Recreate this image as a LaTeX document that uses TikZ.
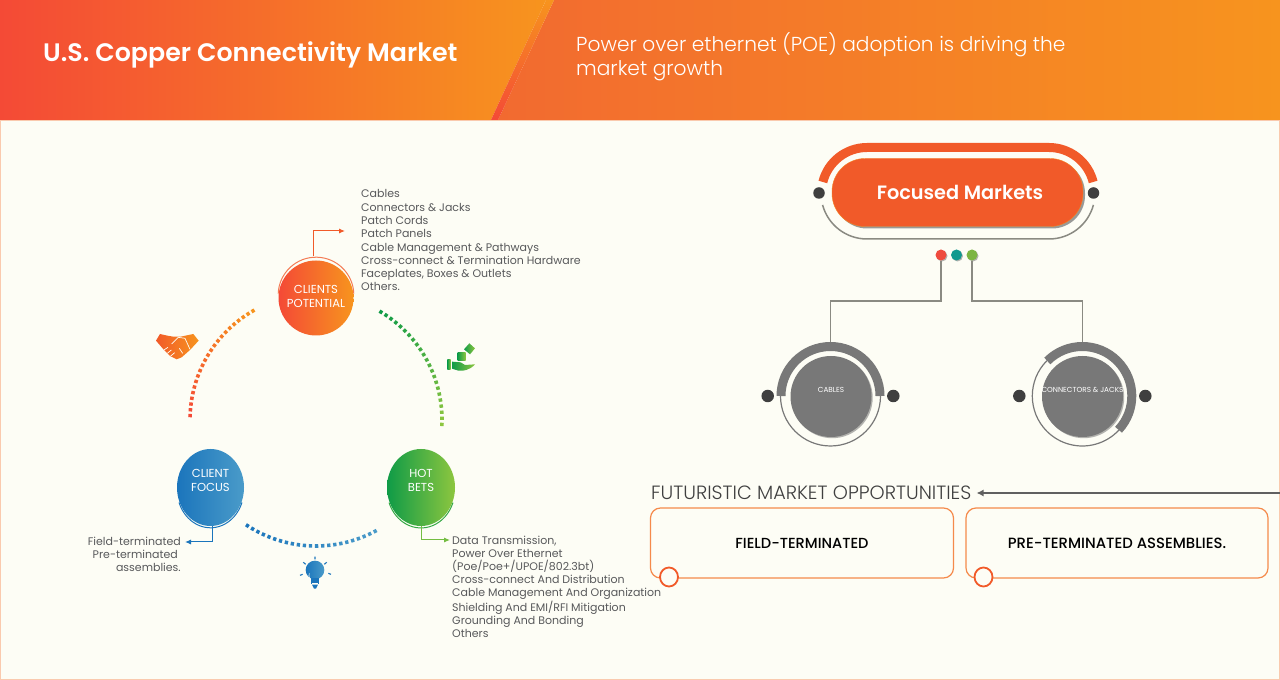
\documentclass[tikz,border=0pt]{standalone}
\usepackage{fontspec}
\setmainfont{Poppins}
\newfontfamily\popsemi{Poppins SemiBold}
\newfontfamily\popmed{Poppins Medium}
\newfontfamily\poplight{Poppins Light}
\usetikzlibrary{arrows.meta,shapes.geometric,shadows}
\definecolor{pagebg}{HTML}{FDFDF5}
\definecolor{hdrred}{HTML}{F44A36}
\definecolor{hdrorange}{HTML}{F7941E}
\definecolor{hdrmid}{HTML}{F26A30}
\definecolor{focusorange}{HTML}{F15A29}
\definecolor{boxorange}{HTML}{F58A4B}
\definecolor{listgray}{HTML}{58595B}
\definecolor{dotdark}{HTML}{3F3F3F}
\definecolor{bandgray}{HTML}{787878}
\definecolor{linegray}{HTML}{8A8A82}
\definecolor{focusblue}{HTML}{1B75BC}
\definecolor{focusblueb}{HTML}{4A9BC9}
\definecolor{betsgreen}{HTML}{0F9B47}
\definecolor{betsgreenb}{HTML}{8DC63F}
\definecolor{dotredc}{HTML}{EF4B3E}
\definecolor{dottealc}{HTML}{11998E}
\definecolor{dotgreenc}{HTML}{7CB542}
\tikzset{
	bubble/.style={ellipse, inner sep=0pt, text=white, align=center, font=\fontsize{11.6}{14}\selectfont},
	listtext/.style={inner sep=0pt, anchor=north west, align=left, text=listgray, font=\fontsize{11}{13.3}\selectfont},
	ringdot/.style={line width=3.6pt, shift={(316,260)}},
	smalltip/.style={-{Latex[length=6pt,width=5pt]}},
	sidedot/.style={circle, fill=dotdark, inner sep=0pt, minimum size=12.5pt},
	colordot/.style={circle, inner sep=0pt, minimum size=11pt, drop shadow={shadow xshift=1pt,shadow yshift=-1pt,fill=gray,opacity=.6}},
	disc/.style={circle, fill=bandgray, inner sep=0pt, minimum size=81pt, text=white, font=\fontsize{7.3}{9}\selectfont, drop shadow={shadow xshift=1.2pt,shadow yshift=-1.2pt,fill=gray,opacity=.6}},
	band/.style={bandgray, line width=9pt},
	thinring/.style={bandgray, line width=1.2pt},
	elbow/.style={linegray, line width=1.5pt},
	oppbox/.style={draw=boxorange, line width=1.2pt, rounded corners=10pt, minimum width=303pt, minimum height=70pt, inner sep=0pt, text=black, font=\popmed\fontsize{14.6}{16}\selectfont},
	oppdot/.style={ellipse, draw=focusorange, fill=pagebg, line width=1.8pt, inner sep=0pt, minimum width=18pt, minimum height=19pt}
}
\begin{document}
\begin{tikzpicture}[x=1pt, y=1pt]
	\useasboundingbox (0,0) rectangle (1280,680);
	\fill[pagebg] (0,0) rectangle (1280,680);
	\draw[boxorange!45, line width=.7pt] (0.3,0.3) rectangle (1279.7,560);

	%% Header
	\shade[left color=hdrred, right color=hdrorange] (0,560) -- (0,680) -- (546,680) -- (491,560) -- cycle;
	\shade[left color=hdrmid, right color=hdrorange] (498,560) -- (554,680) -- (1280,680) -- (1280,560) -- cycle;
	\shade[bottom color=hdrred, top color=hdrorange] (491,560) -- (546,680) -- (554,680) -- (498,560) -- cycle;
	\node[text=white, anchor=west, inner sep=0pt, font=\popsemi\fontsize{25.3}{28}\selectfont] (title) at (43,625.5) {U.S. Copper Connectivity Market};
	\node[text=white, anchor=north west, inner sep=0pt, align=left, font=\poplight\fontsize{20.2}{24}\selectfont] (subtitle) at (576,648) {Power over ethernet (POE) adoption is driving the\\market growth};

	%% Ring
	\foreach \i in {0,...,22} {
		\pgfmathsetmacro\ang{178-\i*58/22}
		\pgfmathsetmacro\mix{100*\i/22}
		\draw[ringdot, hdrorange!\mix!hdrred] (\ang+0.75:126) arc[start angle=\ang+0.75, end angle=\ang-0.75, radius=126];
		\pgfmathsetmacro\ang{-2+\i*61/22}
		\draw[ringdot, betsgreen!\mix!betsgreenb] (\ang+0.75:126) arc[start angle=\ang+0.75, end angle=\ang-0.75, radius=126];
		\pgfmathsetmacro\ang{237+\i*61/22}
		\draw[ringdot, focusblueb!\mix!focusblue] (\ang+0.75:126) arc[start angle=\ang+0.75, end angle=\ang-0.75, radius=126];
	}

	%% Bubbles
	\node[bubble, minimum width=75pt, minimum height=75pt, left color=hdrred, right color=hdrorange] (clients) at (316,382) {\raisebox{3pt}{\clap{CLIENTS}}\\\raisebox{3pt}{\clap{POTENTIAL}}};
	\draw[focusorange!80!white, line width=1pt] (316,385) ++(178:37.8) arc[start angle=178, end angle=2, radius=37.8];
	\node[bubble, minimum width=67pt, minimum height=77pt, left color=focusblue, right color=focusblueb] (focus) at (210.5,192.5) {CLIENT\\FOCUS\\ \mbox{}};
	\draw[focusblue, line width=1pt] (210.5,189) ++(200:33.5) arc[start angle=200, end angle=340, x radius=33.5, y radius=38.5];
	\node[bubble, minimum width=68pt, minimum height=77pt, left color=betsgreen, right color=betsgreenb] (bets) at (421,192.5) {HOT\\BETS\\ \mbox{}};
	\draw[betsgreen!70!betsgreenb, line width=1pt] (421,189) ++(200:34) arc[start angle=200, end angle=340, x radius=34, y radius=38.5];

	%% Lists
	\node[listtext] (clientlist) at (361,490.5) {Cables\\Connectors \& Jacks\\Patch Cords\\Patch Panels\\Cable Management \& Pathways\\Cross-connect \& Termination Hardware\\Faceplates, Boxes \& Outlets\\Others.};
	\node[listtext, font=\fontsize{11}{13.15}\selectfont] (betslist) at (452,144.5) {Data Transmission,\\Power Over Ethernet\\(Poe/Poe+/UPOE/802.3bt)\\Cross-connect And Distribution\\Cable Management And Organization\\Shielding And EMI/RFI Mitigation\\Grounding And Bonding\\Others};
	\node[listtext, anchor=north east] (focusa) at (181,143) {Field-terminated};
	\node[listtext, anchor=north east] (focusb) at (178,130) {Pre-terminated};
	\node[listtext, anchor=north east] (focusc) at (181,117) {assemblies.};

	%% Arrows of the bubbles
	\coordinate (clientsend) at (345,449);
	\coordinate (focusend) at (185,138);
	\coordinate (betsend) at (450,140);
	\draw[smalltip, focusorange, line width=1pt] ([xshift=-2.5pt,yshift=4pt]clients.north) |- (clientsend);
	\draw[smalltip, focusblue, line width=1pt] ([xshift=2pt]focus.south) |- (focusend);
	\draw[smalltip, betsgreenb!80!betsgreen, line width=1pt] (bets.south) |- (betsend);

	%% Handshake
	\begin{scope}[shift={(140,360)}, x=.3333pt, y=-.3333pt]
		\shade[left color=focusorange, right color=hdrorange] (48,62) -- (60,42) -- (82,47) -- (100,50) -- (122,50) -- (160,42) -- (176,62) -- (150,90) -- (125,112) -- (110,118) -- (90,108) -- (72,90) -- cycle;
		\draw[pagebg, line width=.7pt] (95,72) -- (115,52) -- (135,55) -- (150,88);
		\draw[pagebg, line width=.7pt] (72,90) -- (84,82) (82,100) -- (94,90) (92,108) -- (104,98) (118,85) -- (128,100);
	\end{scope}

	%% Hand with cubes
	\begin{scope}[shift={(430,350)}, x=.3333pt, y=-.3333pt]
		\shade[left color=betsgreen, right color=betsgreenb] (52,90) rectangle (62,120);
		\shade[left color=betsgreen, right color=betsgreenb] (66,95) -- (92,97) -- (105,105) -- (135,103) .. controls (120,120) and (100,124) .. (85,122) -- (66,116) -- cycle;
		\shade[left color=betsgreen, right color=betsgreenb] (83,68) rectangle (107,92);
		\shade[left color=betsgreen, right color=betsgreenb] (118,40) -- (135,55) -- (120,73) -- (102,58) -- cycle;
	\end{scope}

	%% Bulb
	\begin{scope}[shift={(290,130)}, x=.3333pt, y=-.3333pt]
		\shade[left color=focusblue, right color=focusblueb] (75,60) circle[radius=28];
		\draw[pagebg, line width=.6pt] (58,70) arc[start angle=200, end angle=110, radius=20];
		\fill[focusblue] (63,85) rectangle (87,102);
		\fill[pagebg] (66,100) rectangle (84,103);
		\fill[focusblue] (66,104) -- (84,104) -- (78,116) -- (72,116) -- cycle;
		\draw[focusblue, line width=1.1pt] (75,20) -- (75,28) (40,37) -- (47,43) (110,37) -- (103,43) (30,76) -- (38,73) (115,70) -- (123,73);
	\end{scope}

	%% Focused Markets
	\draw[focusorange, line width=9pt] (867,487) ++(166:45.5) arc[start angle=166, end angle=90, radius=45.5] -- (1049,532.5) arc[start angle=90, end angle=14, radius=45.5];
	\draw[linegray, line width=1.5pt] (867,487) ++(195:46) arc[start angle=195, end angle=270, radius=46] -- (1049,441) arc[start angle=270, end angle=345, radius=46];
	\node[fill=focusorange, draw=hdrorange!70!focusorange, rounded corners=33pt, minimum width=251pt, minimum height=68pt, inner sep=0pt, text=white, font=\popsemi\fontsize{19.3}{22}\selectfont, drop shadow={shadow xshift=2pt,shadow yshift=-2pt,fill=gray,opacity=.8}] (focused) at (957.5,487.5) {\hspace{5pt}Focused Markets};
	\node[sidedot, minimum size=11.5pt] (focusedl) at (819,487) {};
	\node[sidedot, minimum size=11.5pt] (focusedr) at (1093.5,487) {};

	%% Market dots
	\node[colordot, fill=dotredc] (dotred) at (941,425) {};
	\node[colordot, fill=dottealc] (dotteal) at (956.5,425) {};
	\node[colordot, fill=dotgreenc] (dotgreen) at (972,425) {};

	%% Cables
	\node[disc] (cables) at (831,283.5) {\raisebox{14pt}{CABLES}};
	\draw[band] (830.5,284) ++(180:49.5) arc[start angle=180, end angle=0, radius=49.5];
	\draw[thinring] (780.5,284) arc[start angle=180, end angle=360, radius=50];
	\node[sidedot] (cablesl) at (767.7,284) {};
	\node[sidedot] (cablesr) at (893.3,284) {};

	%% Connectors and jacks
	\node[disc] (jacks) at (1082.5,283.5) {\raisebox{14pt}{\clap{CONNECTORS \& JACKS}}};
	\draw[band] (1082.3,284) ++(135:49.5) arc[start angle=135, end angle=-43, radius=49.5];
	\draw[thinring] (1082.3,284) ++(135:50) arc[start angle=135, end angle=317, radius=50];
	\node[sidedot] (jacksl) at (1019.3,284) {};
	\node[sidedot] (jacksr) at (1145.3,284) {};

	%% Elbows
	\coordinate (elbowa) at (941,379);
	\coordinate (elbowb) at (830.5,379);
	\coordinate (elbowc) at (972,379);
	\coordinate (elbowd) at (1082.3,379);
	\coordinate (cablestop) at (830.5,338);
	\coordinate (jackstop) at (1082.3,338);
	\draw[elbow] (dotred.south) -- (elbowa) -- (elbowb) -- (cablestop);
	\draw[elbow] (dotgreen.south) -- (elbowc) -- (elbowd) -- (jackstop);

	%% Futuristic market
	\node[anchor=west, inner sep=0pt, text=dotdark, font=\poplight\fontsize{19.2}{22}\selectfont] (futuretitle) at (651,187) {FUTURISTIC MARKET OPPORTUNITIES};
	\coordinate (futurestart) at (1280,187);
	\draw[-{Latex[length=7pt,width=7pt]}, bandgray!80!black, line width=1.3pt, shorten >=5pt] (futurestart) -- (futuretitle.east);
	\node[oppbox] (boxfield) at (802,137) {FIELD-TERMINATED};
	\node[oppbox, minimum width=302pt, font=\popmed\fontsize{14.85}{16}\selectfont] (boxpre) at (1117,137) {PRE-TERMINATED ASSEMBLIES.};
	\node[oppdot] (dotfield) at (669,103) {};
	\node[oppdot] (dotpre) at (983.5,103) {};
\end{tikzpicture}
\end{document}
